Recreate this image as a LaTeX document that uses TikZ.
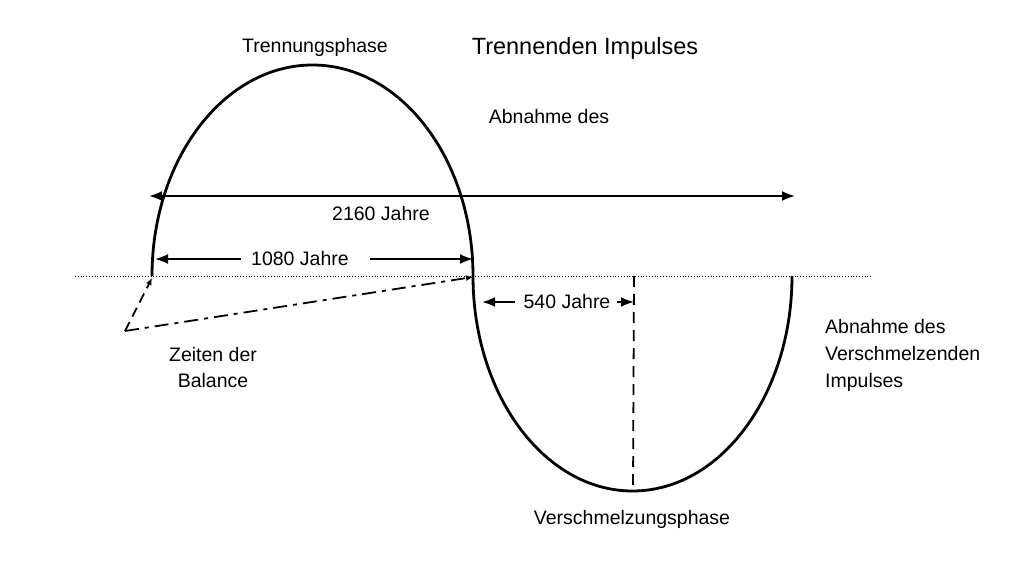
\documentclass[tikz,border=0pt]{standalone}
\usepackage{fontspec}
\setmainfont{Liberation Sans}
\usetikzlibrary{arrows.meta}
\begin{document}
\begin{tikzpicture}[x=1pt,y=-1pt,
  lbl/.style={font=\fontsize{19.5}{26}\selectfont, inner sep=0pt, align=center},
  curve/.style={line width=2.8pt},
  dim/.style={line width=2pt, -{Latex[length=13pt,width=10pt]}},
  balance/.style={line width=1.8pt, -{Latex[length=7pt,width=6pt]}},
  base/.style={line width=0.8pt, dotted}]
\useasboundingbox[fill=white] (0,0) rectangle (1024,580);
% baseline
\coordinate (bl) at (75,276);
\coordinate (br) at (873,276);
\draw[base] (bl) -- (br);
% curve
\coordinate (c0) at (152,276);
\coordinate (c1) at (473,276);
\coordinate (c2) at (792,276);
\coordinate (bot) at (633,491);
\draw[curve] (c0) arc[start angle=180, end angle=0, x radius=160.5, y radius=-211]
   arc[start angle=180, end angle=360, x radius=159.5, y radius=-215];
% 2160
\coordinate (a1) at (149,196);
\coordinate (a2) at (795,196);
\draw[line width=2pt, {Latex[length=13pt,width=10pt]}-{Latex[length=13pt,width=10pt]}] (a1) -- (a2);
\node[lbl] (t2160) at (381,214) {2160 Jahre};
% 1080
\node[lbl] (t1080) at (300,259) {1080 Jahre};
\coordinate (l1a) at (241,259);
\coordinate (l1b) at (155,259);
\coordinate (r1a) at (370,259);
\coordinate (r1b) at (473,259);
\draw[dim] (l1a) -- (l1b);
\draw[dim] (r1a) -- (r1b);
% 540
\node[lbl] (t540) at (567,302) {540 Jahre};
\coordinate (l5a) at (515,302);
\coordinate (l5b) at (482,302);
\coordinate (r5a) at (617,302);
\coordinate (r5b) at (634,302);
\draw[dim] (l5a) -- (l5b);
\draw[dim] (r5a) -- (r5b);
% vertical dashed
\coordinate (v1) at (634,276);
\draw[line width=1.8pt, dash pattern=on 11pt off 7pt] (v1) -- (bot);
% balance lines
\coordinate (z) at (125,331);
\coordinate (z1) at (152,278);
\coordinate (z2) at (473,277);
\draw[balance, dash pattern=on 10pt off 6pt] (z) -- (z1);
\draw[balance, dash pattern=on 14pt off 6pt on 4pt off 6pt] (z) -- (z2);
% labels
\node[lbl] (zeiten) at (213,368) {Zeiten der\\Balance};
\node[lbl] (tp) at (315,47) {Trennungsphase};
\node[lbl, font=\fontsize{23.5}{28}\selectfont] (ti) at (585,48) {Trennenden Impulses};
\node[lbl] (ab) at (549,117) {Abnahme des};
\node[lbl, anchor=west, align=left, font=\fontsize{19.5}{27}\selectfont] (abv) at (825,355) {Abnahme des\\Verschmelzenden\\Impulses};
\node[lbl] (vp) at (632,519) {Verschmelzungsphase};
\end{tikzpicture}
\end{document}
